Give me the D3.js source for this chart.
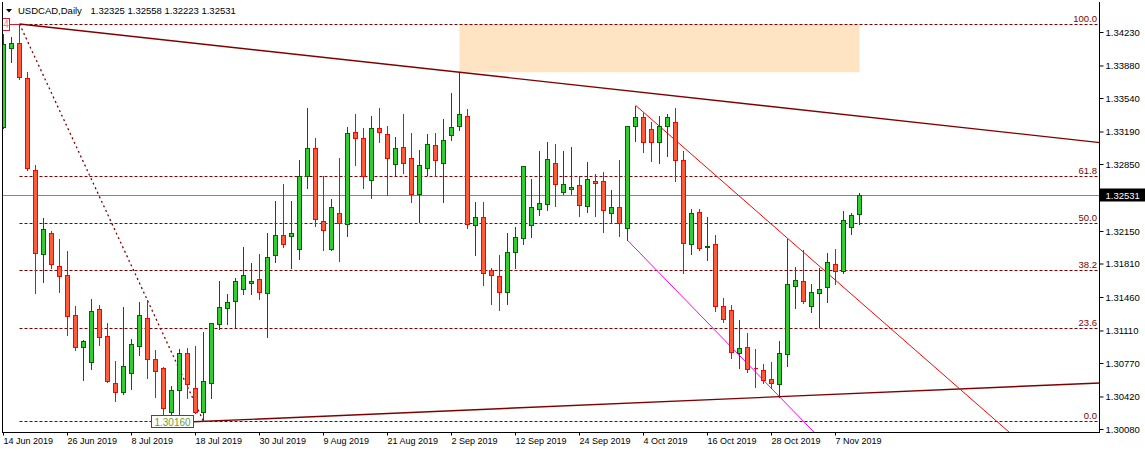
<!DOCTYPE html>
<html><head><meta charset="utf-8">
<script src="https://cdn.jsdelivr.net/npm/d3@7"></script>
<style>html,body{margin:0;padding:0;background:#fff;} svg{display:block;}</style>
</head><body><svg id="c" width="1145" height="453"></svg>
<script>
// ---------------- DATA ----------------
const symbol = "USDCAD,Daily";
const dateTicks = ["14 Jun 2019","26 Jun 2019","8 Jul 2019","18 Jul 2019","30 Jul 2019","9 Aug 2019","21 Aug 2019","2 Sep 2019","12 Sep 2019","24 Sep 2019","4 Oct 2019","16 Oct 2019","28 Oct 2019","7 Nov 2019"];
const dateTickStep = 8;
const priceTicks = [1.34230,1.33880,1.33540,1.33190,1.32850,1.32150,1.31810,1.31460,1.31110,1.30770,1.30420,1.30080];
const opens = [1.33240,1.34060,1.34112,1.33746,1.32784,1.31906,1.32126,1.31781,1.31687,1.31269,
1.30934,1.30777,1.31331,1.31049,1.30558,1.30464,1.30662,1.30945,1.31237,1.30809,
1.30715,1.30255,1.30485,1.30871,1.30506,1.30261,1.30564,1.31175,1.31348,1.31418,
1.31540,1.31603,1.31645,1.31499,1.31896,1.32105,1.32101,1.31959,1.32722,1.33014,
1.32251,1.31959,1.32335,1.32220,1.33182,1.33119,1.32680,1.33224,1.33161,1.32847,
1.33025,1.32910,1.32534,1.32805,1.33046,1.32858,1.33150,1.33244,1.33349,1.32209,
1.32293,1.31739,1.31676,1.31509,1.31927,1.32074,1.32209,1.32377,1.32429,1.32858,
1.32555,1.32586,1.32628,1.32408,1.32670,1.32670,1.32335,1.32398,1.32178,1.33244,
1.33339,1.33213,1.33077,1.33244,1.33286,1.32889,1.32011,1.32345,1.31980,1.32011,
1.31363,1.31321,1.30871,1.30934,1.30721,1.30694,1.30600,1.30547,1.30861,1.31572,
1.31624,1.31363,1.31499,1.31561,1.31802,1.31729,1.32189,1.32325];
const highs = [1.34217,1.34188,1.34314,1.33823,1.32850,1.32296,1.32160,1.32074,1.31951,1.31376,
1.31021,1.31446,1.31387,1.31195,1.30801,1.31366,1.31034,1.31421,1.31439,1.30916,
1.30739,1.30540,1.30924,1.30934,1.30958,1.31105,1.31202,1.31638,1.31505,1.31666,
1.31993,1.31826,1.31917,1.32139,1.32474,1.32649,1.32474,1.32903,1.33446,1.33133,
1.32735,1.32495,1.32920,1.33248,1.33384,1.33237,1.33363,1.33446,1.33258,1.33143,
1.33384,1.33185,1.33007,1.33174,1.33185,1.33331,1.33603,1.33809,1.33436,1.32464,
1.32464,1.31770,1.31910,1.32139,1.32202,1.32840,1.32704,1.32997,1.33091,1.33070,
1.32997,1.33039,1.32732,1.32882,1.32753,1.32777,1.32589,1.32903,1.33248,1.33464,
1.33391,1.33300,1.33363,1.33384,1.33443,1.32994,1.32387,1.32387,1.32304,1.32115,
1.31457,1.31387,1.31227,1.31091,1.30924,1.30767,1.30788,1.31007,1.32074,1.31781,
1.31959,1.31603,1.31770,1.31927,1.31969,1.32366,1.32345,1.32558];
const lows = [1.33227,1.33920,1.33736,1.32784,1.31505,1.31620,1.31760,1.31515,1.31063,1.30906,
1.30592,1.30704,1.30958,1.30574,1.30376,1.30443,1.30495,1.30854,1.30616,1.30418,
1.30205,1.30209,1.30226,1.30404,1.30244,1.30160,1.30407,1.31122,1.31178,1.31143,
1.31488,1.31488,1.31436,1.31045,1.31823,1.31986,1.31766,1.31860,1.32603,1.32205,
1.31954,1.31954,1.31839,1.32101,1.32840,1.32603,1.32498,1.33077,1.32523,1.32739,
1.32759,1.32456,1.32241,1.32735,1.32722,1.32456,1.33101,1.33209,1.32178,1.31902,
1.31582,1.31390,1.31327,1.31390,1.31760,1.32011,1.32090,1.32320,1.32373,1.32414,
1.32534,1.32540,1.32310,1.32345,1.32310,1.32136,1.32230,1.32095,1.32053,1.33088,
1.32979,1.32885,1.32864,1.32937,1.32676,1.31708,1.31906,1.31948,1.31844,1.31310,
1.31195,1.30819,1.30715,1.30679,1.30522,1.30558,1.30506,1.30418,1.30742,1.31345,
1.31394,1.31300,1.31143,1.31405,1.31593,1.31714,1.32115,1.32223];
const closes = [1.34102,1.34112,1.33757,1.32805,1.31917,1.32168,1.31802,1.31676,1.31264,1.30940,
1.30997,1.31310,1.31045,1.30585,1.30464,1.30735,1.30965,1.31269,1.30809,1.30686,
1.30296,1.30485,1.30871,1.30547,1.30261,1.30582,1.31185,1.31359,1.31405,1.31630,
1.31687,1.31624,1.31509,1.31875,1.32105,1.32011,1.32126,1.32722,1.33014,1.32272,
1.32157,1.32398,1.32230,1.33171,1.33119,1.32728,1.33224,1.33188,1.32910,1.33014,
1.32858,1.32534,1.32837,1.33056,1.32889,1.33098,1.33234,1.33370,1.32220,1.32293,
1.31708,1.31687,1.31509,1.31927,1.32084,1.32826,1.32398,1.32440,1.32899,1.32638,
1.32638,1.32607,1.32419,1.32690,1.32649,1.32366,1.32398,1.32230,1.33244,1.33339,
1.33077,1.33077,1.33244,1.33339,1.32889,1.32021,1.32335,1.31969,1.31990,1.31363,
1.31227,1.30882,1.30924,1.30704,1.30715,1.30589,1.30558,1.30871,1.31593,1.31635,
1.31415,1.31509,1.31540,1.31823,1.31729,1.32262,1.32314,1.32531];
// Fibonacci retracement: anchors are bar indices (high bar, low bar)
const fibHighBar = 2, fibLowBar = 25;
const fibLevels = [0.0, 23.6, 38.2, 50.0, 61.8, 100.0];
// Trend lines through two bar anchors: [bar, "high"|"low"]
const trendA = [[2,"high"],[57,"high"]];   // long resistance (maroon)
const trendB = [[25,"low"],[97,"low"]];    // support (maroon)
const trendC = [[79,"high"],[98,"high"]];  // red down line
const trendD = [[78,"low"],[97,"low"]];    // magenta down line
// Zone rectangle: from bar to bar, between fib high and the high of its start bar
const zoneBars = [57, 107];

// ---------------- LAYOUT ----------------
const W = 1145, H = 453;
const L = 2.5, R = 1099.5, T = 2, B = 432.5;
const n = closes.length;
const font = "'Liberation Sans', Arial, sans-serif";
const svg = d3.select("#c");

const x = d3.scaleLinear().domain([0, n-1]).range([3.5, 3.5 + 8*(n-1)]);
const y = d3.scaleLinear().domain([1.30080, 1.34230]).range([429, 32]);
const py = v => Math.round(y(v)) + 0.5;
const val = (a) => a[1] === "high" ? highs[a[0]] : lows[a[0]];

svg.append("defs").append("clipPath").attr("id","plot")
  .append("rect").attr("x", L+0.5).attr("y", T).attr("width", R-L-0.5).attr("height", B-T);
const g = svg.append("g").attr("clip-path","url(#plot)");

// zone rectangle
const fibHi = highs[fibHighBar], fibLo = lows[fibLowBar];
g.append("rect")
  .attr("x", x(zoneBars[0])).attr("width", x(zoneBars[1]) - x(zoneBars[0]))
  .attr("y", y(fibHi)).attr("height", y(highs[zoneBars[0]]) - y(fibHi))
  .attr("fill", "#FFE4C4");

// fib levels
fibLevels.forEach(lv => {
  const p = fibLo + (fibHi - fibLo) * lv / 100;
  g.append("line").attr("x1", x(fibHighBar)).attr("x2", R)
    .attr("y1", py(p)).attr("y2", py(p))
    .attr("stroke", "#800000").attr("stroke-width", 1).attr("stroke-dasharray", "3,2");
  svg.append("text").attr("x", R - 2.5).attr("y", py(p) - 2.5)
    .attr("text-anchor", "end").attr("font-family", font).attr("font-size", "9.5px")
    .attr("fill", "#800000").text(lv.toFixed(1));
});
// fib diagonal
g.append("line").attr("x1", x(fibHighBar)).attr("y1", y(fibHi)).attr("x2", x(fibLowBar)).attr("y2", y(fibLo))
  .attr("stroke", "#800000").attr("stroke-width", 1.3).attr("stroke-dasharray", "2,3");

// current price line
const last = closes[n-1];
g.append("line").attr("x1", L).attr("x2", R).attr("y1", py(last)).attr("y2", py(last))
  .attr("stroke", "#778899").attr("stroke-width", 1);

// trend lines
function trend(def, startIdx, color, w) {
  const [a, b] = def;
  const pa = val(a), pb = val(b);
  const f = i => pa + (pb - pa) * (i - a[0]) / (b[0] - a[0]);
  const endIdx = x.invert(R + 5);
  g.append("line").attr("x1", x(startIdx)).attr("y1", y(f(startIdx)))
    .attr("x2", x(endIdx)).attr("y2", y(f(endIdx)))
    .attr("stroke", color).attr("stroke-width", w);
}
trend(trendA, trendA[0][0], "#800000", 1.4);
trend(trendB, trendB[0][0] - 1.25, "#800000", 1.4);
trend(trendC, trendC[0][0], "#FF0000", 1);
trend(trendD, trendD[0][0], "#FF00FF", 1);

// candles
const cg = g.append("g").attr("shape-rendering", "crispEdges");
for (let i = 0; i < n; i++) {
  const up = closes[i] >= opens[i];
  const cx = x(i);
  cg.append("line").attr("x1", cx).attr("x2", cx).attr("y1", py(highs[i])).attr("y2", py(lows[i]) + 0.5)
    .attr("stroke", up ? "#006400" : "#FF0000").attr("stroke-width", 1);
  const t = Math.min(py(opens[i]), py(closes[i])), bt = Math.max(py(opens[i]), py(closes[i]));
  cg.append("path").attr("d", `M${cx-2},${t}H${cx+2}V${bt}H${cx-2}Z`)
    .attr("fill", up ? "#32CD32" : "#FF5A3C").attr("stroke", up ? "#006400" : "#FF0000").attr("stroke-width", 1);
}

// low price label box
const lowX = x(fibLowBar) - 10, lowY = y(fibLo);
svg.append("rect").attr("x", lowX - 42).attr("y", Math.round(lowY) - 5.5).attr("width", 42).attr("height", 12)
  .attr("fill", "#fff").attr("stroke", "#008000").attr("stroke-width", 1).attr("shape-rendering","crispEdges");
svg.append("text").attr("x", lowX - 21).attr("y", Math.round(lowY) + 4.5).attr("text-anchor", "middle")
  .attr("font-family", font).attr("font-size", "10px").attr("fill", "#6E9A2E").text(fibLo.toFixed(5));

// top-left small anchor marker
svg.append("rect").attr("x", 2.5).attr("y", 18.5).attr("width", 7).attr("height", 12)
  .attr("fill", "#fff").attr("stroke", "#DC143C").attr("stroke-width", 1);
svg.append("text").attr("x", 6).attr("y", 28).attr("text-anchor", "middle")
  .attr("font-family", font).attr("font-size", "10px").attr("fill", "#F08080").text("4");
svg.append("line").attr("x1", 9.5).attr("x2", x(fibHighBar)).attr("y1", py(fibHi)).attr("y2", py(fibHi))
  .attr("stroke", "#DC143C").attr("stroke-width", 1);

// frame
svg.append("path").attr("d", `M${L},${T}V${B}H${R}V${T}`).attr("fill", "none")
  .attr("stroke", "#000").attr("stroke-width", 1).attr("shape-rendering", "crispEdges");

// right price axis
const ya = d3.axisRight(y).tickValues(priceTicks).tickSize(4).tickPadding(2).tickFormat(d3.format(".5f"));
const yg = svg.append("g").attr("transform", `translate(${R},0)`).call(ya);
yg.select(".domain").remove();
yg.selectAll("text").attr("font-family", font).attr("font-size", "9.5px").attr("fill", "#000");
yg.selectAll("line").attr("stroke", "#000");

// current price tag
svg.append("rect").attr("x", R + 0.5).attr("y", py(last) - 7).attr("width", W - R).attr("height", 13).attr("fill", "#000");
svg.append("text").attr("x", R + 6).attr("y", py(last) + 3.5).attr("font-family", font).attr("font-size", "9.5px")
  .attr("fill", "#fff").text(last.toFixed(5));

// bottom date axis
const tickIdx = dateTicks.map((d, k) => k * dateTickStep);
const xa = d3.axisBottom(x).tickValues(tickIdx).tickSize(3).tickFormat((d, k) => dateTicks[k]);
const xg = svg.append("g").attr("transform", `translate(-0.5,${B})`).call(xa);
xg.select(".domain").remove();
xg.selectAll("line").attr("stroke", "#000");
xg.selectAll("text").attr("text-anchor", "start").attr("x", 0).attr("y", 11.5).attr("dy", 0)
  .attr("font-family", font).attr("font-size", "9px").attr("fill", "#000");

// title
svg.append("path").attr("d", "M6,9L12,9L9,12.5Z").attr("fill", "#000");
svg.append("text").attr("x", 18).attr("y", 14).attr("font-family", font).attr("font-size", "9.5px").attr("fill", "#000")
  .text(symbol);
svg.append("text").attr("x", 90.5).attr("y", 14).attr("font-family", font).attr("font-size", "9.5px").attr("fill", "#000")
  .text([opens[n-1], highs[n-1], lows[n-1], closes[n-1]].map(v => v.toFixed(5)).join(" "));
</script></body></html>
